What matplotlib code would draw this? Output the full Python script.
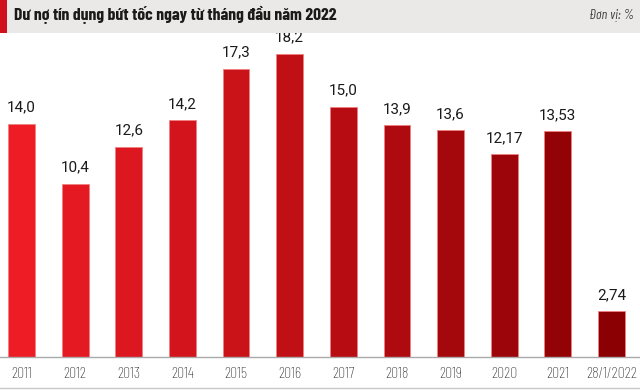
import matplotlib
matplotlib.use("Agg")
import matplotlib.pyplot as plt
from matplotlib.patches import Rectangle
from matplotlib.lines import Line2D
import numpy as np
from matplotlib.colors import to_rgb

categories = ["2011", "2012", "2013", "2014", "2015", "2016", "2017", "2018",
              "2019", "2020", "2021", "28/1/2022"]
values = [14.0, 10.4, 12.6, 14.2, 17.3, 18.2, 15.0, 13.9, 13.6, 12.17, 13.53, 2.74]
labels = ["14,0", "10,4", "12,6", "14,2", "17,3", "18,2", "15,0", "13,9",
          "13,6", "12,17", "13,53", "2,74"]
title = "Dư nợ tín dụng bứt tốc ngay từ tháng đầu năm 2022"
unit = "Đơn vị: %"

COND = ["Barlow Condensed", "Roboto Condensed", "DejaVu Sans"]

W, H = 640, 390
fig = plt.figure(figsize=(W / 100, H / 100), dpi=100)

# header
fig.patches.append(Rectangle((0, (H - 33) / H), 1, 33 / H, transform=fig.transFigure,
                             facecolor="#ebe9e7", edgecolor="none", zorder=0))
fig.patches.append(Rectangle((0, (H - 33) / H), 7 / W, 33 / H, transform=fig.transFigure,
                             facecolor="#d0101c", edgecolor="none", zorder=1))
fig.text(14 / W, (H - 15) / H, title, fontsize=12.7, fontweight="bold",
         family=COND, color="#1a1a1a", va="center", ha="left")
fig.text(634 / W, (H - 16) / H, unit, fontsize=10, style="italic",
         family=COND, color="#444444", va="center", ha="right")

ax = fig.add_axes([0, (H - 357) / H, 1, (357 - 33) / H])
spacing = 53.64
x = np.arange(len(categories))
ax.set_xlim(-21.5 / spacing, 11 + 28.5 / spacing)
ax.set_ylim(0, (357 - 33) / 16.67)

c0 = np.array(to_rgb("#ee1c25"))
c1 = np.array(to_rgb("#8a0003"))
colors = [tuple(c0 + (c1 - c0) * i / (len(categories) - 1)) for i in range(len(categories))]

ax.bar(x, values, width=0.5, color=colors, edgecolor="#f08080", linewidth=0.6, zorder=2)
for xi, v, lab in zip(x, values, labels):
    ax.text(xi, v + 0.55, lab, ha="center", va="bottom", fontsize=11,
            family=["Roboto", "DejaVu Sans"], color="#1a1a1a")

for s in ["top", "right", "left"]:
    ax.spines[s].set_visible(False)
ax.spines["bottom"].set_color("#aaaaaa")
ax.spines["bottom"].set_linewidth(1)
ax.set_yticks([])
ax.set_xticks(x)
ax.set_xticklabels(categories, fontsize=11.5, family=COND, fontweight="light", color="#222222")
ax.tick_params(axis="x", length=0, pad=7)

fig.add_artist(Line2D([0, 1], [(H - 388) / H] * 2, transform=fig.transFigure,
                      color="#c8c8c8", linewidth=1))

fig.savefig("out.png", dpi=100)
